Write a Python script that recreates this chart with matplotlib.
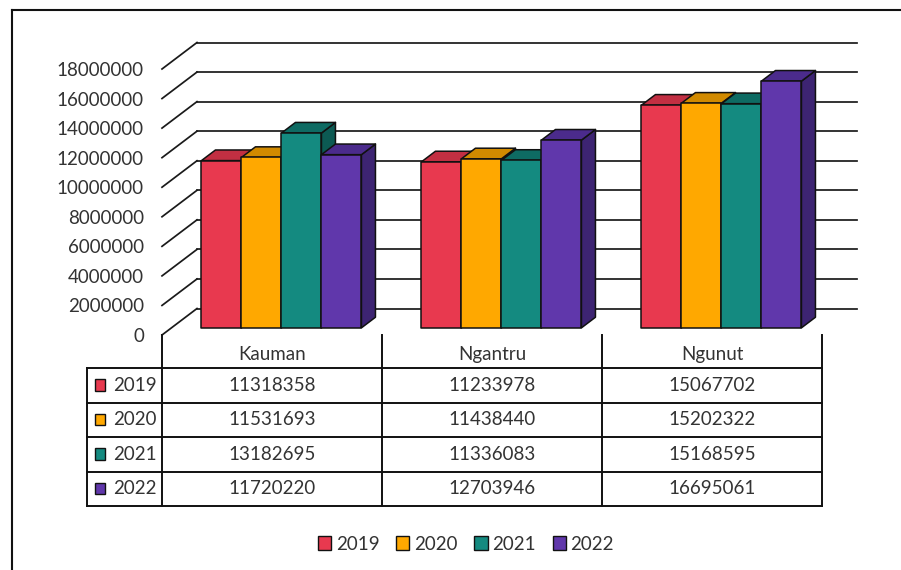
import matplotlib.pyplot as plt
from matplotlib.patches import Polygon, Patch, Rectangle
from matplotlib.lines import Line2D

plt.rcParams['font.family'] = ['Lato', 'DejaVu Sans']

categories = ["Kauman", "Ngantru", "Ngunut"]
years = ["2019", "2020", "2021", "2022"]
v2019 = [11318358, 11233978, 15067702]
v2020 = [11531693, 11438440, 15202322]
v2021 = [13182695, 11336083, 15168595]
v2022 = [11720220, 12703946, 16695061]
series = [v2019, v2020, v2021, v2022]
yticks = list(range(0, 18000001, 2000000))

# front / top / side shades per year
front_col = ['#E8394F', '#FFA800', '#148A80', '#6037AB']
top_col = ['#C22F42', '#D18A00', '#0E6B63', '#4B2B8C']
side_col = ['#A82838', '#B07400', '#0C5A53', '#3D2472']
TXT = '#333333'
FS = 13.5

W, H = 901, 570
fig = plt.figure(figsize=(W / 100, H / 100), dpi=100)

# plot area: x in category units, y in values
ax = fig.add_axes([162 / W, 1 - 335 / H, 660 / W, 266 / H])
ax.set_xlim(0, 3)
ax.set_ylim(0, 18000000)
for s in ax.spines.values():
    s.set_visible(False)
ax.set_xticks([])
ax.set_yticks(yticks)
ax.set_yticklabels([str(t) for t in yticks], fontsize=FS, color=TXT)
ax.tick_params(axis='y', length=0, pad=13)

# depth offset of the back wall, in data units
DX = 35 / 220
DY = 26.5 * 18000000 / 266


def proj(x, v, d):
    return (x + d * DX, v + d * DY)


# walls: diagonal floor lines and back gridlines
for v in yticks:
    ax.add_line(Line2D(*zip(proj(0, v, 0), proj(0, v, 1)), color='#1a1a1a',
                       lw=1.25, clip_on=False, zorder=1))
    ax.add_line(Line2D(*zip(proj(0, v, 1), proj(3, v, 1)), color='#1a1a1a',
                       lw=1.25, clip_on=False, zorder=1))

# 3D bars, drawn left to right so nearer faces cover farther ones
bw = 160 / 220 / 4
d0, d1 = 0.27, 0.67
z = 2
for i in range(len(categories)):
    for j, vals in enumerate(series):
        x0 = i + 0.5 - 2 * bw + j * bw
        x1 = x0 + bw
        h = vals[i]
        side = [proj(x1, 0, d0), proj(x1, 0, d1), proj(x1, h, d1), proj(x1, h, d0)]
        top = [proj(x0, h, d0), proj(x1, h, d0), proj(x1, h, d1), proj(x0, h, d1)]
        front = [proj(x0, 0, d0), proj(x1, 0, d0), proj(x1, h, d0), proj(x0, h, d0)]
        for pts, c in ((side, side_col[j]), (top, top_col[j]), (front, front_col[j])):
            ax.add_patch(Polygon(pts, closed=True, facecolor=c, edgecolor='#111111',
                                 lw=1.1, joinstyle='round', clip_on=False, zorder=z))
            z += 1

# data table underneath
tab = fig.add_axes([87 / W, 1 - 506 / H, 735 / W, 171 / H])
tab.set_xlim(-75 / 220, 3)
tab.set_ylim(4, -0.957)
tab.axis('off')
lk = dict(color='#111111', lw=1.4, clip_on=False)
for x in range(4):
    tab.plot([x, x], [-0.957, 4], **lk)
tab.plot([-75 / 220, -75 / 220], [0, 4], **lk)
for r in range(5):
    tab.plot([-75 / 220, 3], [r, r], **lk)

for i, name in enumerate(categories):
    tab.text(i + 0.5, -0.38, name, ha='center', va='center', fontsize=FS, color=TXT)
for r, (yr, vals) in enumerate(zip(years, series)):
    tab.add_patch(Rectangle((-67 / 220, r + 0.33), 10 / 220, 0.33, facecolor=front_col[r],
                            edgecolor='#111111', lw=1.0))
    tab.text(-49 / 220, r + 0.5, yr, ha='left', va='center', fontsize=FS, color=TXT)
    for i, v in enumerate(vals):
        tab.text(i + 0.5, r + 0.5, str(v), ha='center', va='center', fontsize=FS, color=TXT)

# legend
handles = [Patch(facecolor=c, edgecolor='#111111', lw=1.0) for c in front_col]
fig.legend(handles, years, loc='center', bbox_to_anchor=(466 / W, 1 - 544 / H),
           ncol=4, frameon=False, fontsize=FS, handlelength=0.7, handleheight=0.7,
           handletextpad=0.25, columnspacing=0.9, labelcolor=TXT)

# outer chart border (left and top visible)
fig.add_artist(Line2D([12 / W, 12 / W], [0, 1 - 10 / H], color='#111111', lw=1.5))
fig.add_artist(Line2D([12 / W, 1], [1 - 10 / H, 1 - 10 / H], color='#111111', lw=1.5))

fig.savefig('out.png', dpi=100, facecolor='white')
